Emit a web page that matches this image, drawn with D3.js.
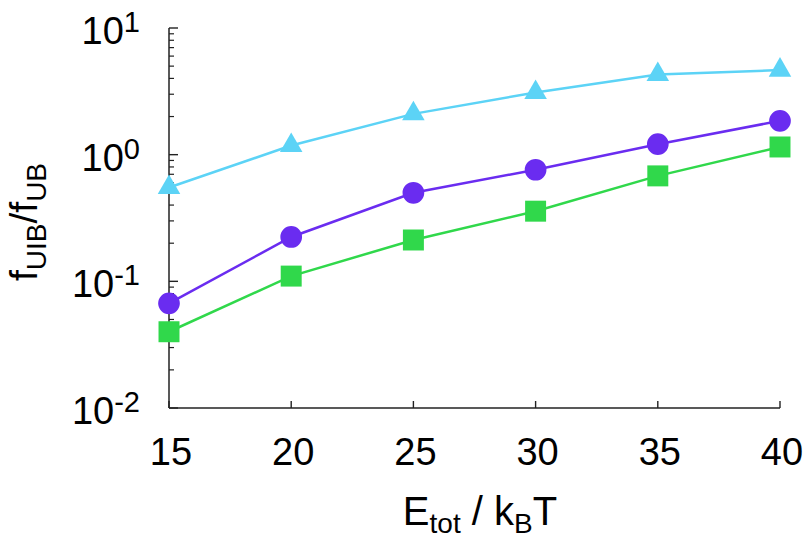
<!DOCTYPE html>
<html><head><meta charset="utf-8">
<script src="https://cdn.jsdelivr.net/npm/d3@7"></script>
<style>body{margin:0;background:#fff}svg{display:block}text{font-family:"Liberation Sans",Arial,Helvetica,sans-serif;fill:#000}</style>
</head><body><svg id="c" width="810" height="540"></svg>
<script>
const energies = [15, 20, 25, 30, 35, 40];
const triangleSeries = [0.55, 1.18, 2.1, 3.1, 4.3, 4.65];
const circleSeries = [0.067, 0.224, 0.50, 0.76, 1.21, 1.85];
const squareSeries = [0.040, 0.110, 0.212, 0.358, 0.68, 1.15];
const xTicks = [15, 20, 25, 30, 35, 40];
const yExponents = [-2, -1, 0, 1];

const svg = d3.select("#c");
const m = {l:169, r:780, t:28, b:408};
const x = d3.scaleLinear().domain([15,40]).range([m.l, m.r]);
const y = d3.scaleLog().domain([0.01,10]).range([m.b, m.t]);

const axisColor = "#222";
svg.append("line").attr("x1",m.l).attr("x2",m.l).attr("y1",m.t).attr("y2",m.b).attr("stroke",axisColor).attr("stroke-width",1.5);
svg.append("line").attr("x1",m.l).attr("x2",m.r).attr("y1",m.b).attr("y2",m.b).attr("stroke",axisColor).attr("stroke-width",1.5);

const minor = [];
yExponents.forEach(e => { if (e < 1) for (let k=2;k<=9;k++) minor.push(k*Math.pow(10,e)); });
svg.selectAll(".ymin").data(minor).enter().append("line")
  .attr("x1",m.l).attr("x2",m.l+5).attr("y1",d=>y(d)).attr("y2",d=>y(d))
  .attr("stroke",axisColor).attr("stroke-width",1.2);
svg.selectAll(".ymaj").data(yExponents).enter().append("line")
  .attr("x1",m.l).attr("x2",m.l+9).attr("y1",d=>y(Math.pow(10,d))).attr("y2",d=>y(Math.pow(10,d)))
  .attr("stroke",axisColor).attr("stroke-width",1.4);
const yl = svg.selectAll(".ylab").data(yExponents).enter().append("text")
  .attr("x",140).attr("y",d=>y(Math.pow(10,d))+16).attr("text-anchor","end").attr("font-size",38);
yl.append("tspan").text("10");
yl.append("tspan").attr("dy",-12).attr("font-size",29).text(d=>d<0?"-"+(-d):String(d));

svg.selectAll(".xt").data(xTicks).enter().append("line")
  .attr("x1",d=>x(d)).attr("x2",d=>x(d)).attr("y1",m.b).attr("y2",m.b-7)
  .attr("stroke",axisColor).attr("stroke-width",1.4);
svg.selectAll(".xl").data(xTicks).enter().append("text")
  .attr("x",d=>x(d)+2).attr("y",465).attr("text-anchor","middle").attr("font-size",38).text(d=>d);

const xl = svg.append("text").attr("x",480).attr("y",525).attr("text-anchor","middle").attr("font-size",40);
xl.append("tspan").text("E");
xl.append("tspan").attr("dy",8).attr("font-size",28).text("tot");
xl.append("tspan").attr("dy",-8).text(" / k");
xl.append("tspan").attr("dy",8).attr("font-size",28).text("B");
xl.append("tspan").attr("dy",-8).text("T");

const ylab = svg.append("text").attr("transform","translate(37,222) rotate(-90)").attr("text-anchor","middle").attr("font-size",39);
ylab.append("tspan").text("f");
ylab.append("tspan").attr("dy",9).attr("font-size",28).text("UIB");
ylab.append("tspan").attr("dy",-9).text("/f");
ylab.append("tspan").attr("dy",9).attr("font-size",28).text("UB");

const series = [
  {vals:triangleSeries, color:"#5cd3f6", shape:d3.symbolTriangle, size:220},
  {vals:circleSeries, color:"#6a2cf0", shape:d3.symbolCircle, size:370},
  {vals:squareSeries, color:"#30d84b", shape:d3.symbolSquare, size:440}
];
const line = d3.line().x(d=>x(d[0])).y(d=>y(d[1]));
series.forEach(s => {
  const pts = energies.map((e,i)=>[e, s.vals[i]]);
  svg.append("path").attr("d",line(pts)).attr("fill","none").attr("stroke",s.color).attr("stroke-width",2.5);
  svg.selectAll(null).data(pts).enter().append("path")
    .attr("d",d3.symbol().type(s.shape).size(s.size))
    .attr("transform",d=>`translate(${x(d[0])},${y(d[1])})`)
    .attr("fill",s.color);
});
</script></body></html>
